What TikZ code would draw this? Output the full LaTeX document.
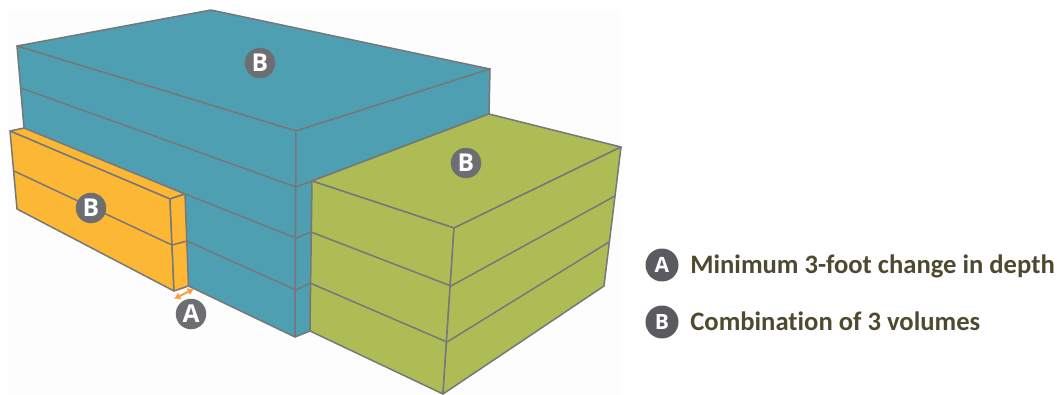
\documentclass[tikz,border=0pt]{standalone}
\usepackage{fontspec}
\setmainfont[Ligatures=NoCommon]{Carlito}
\newfontfamily\badgefont{Open Sans}
\usetikzlibrary{positioning, arrows.meta}
\definecolor{tealface}{HTML}{4F9FB3}
\definecolor{amberface}{HTML}{FCB734}
\definecolor{oliveface}{HTML}{ADBC55}
\definecolor{edgegray}{HTML}{77777A}
\definecolor{badgegray}{HTML}{6D6E71}
\definecolor{keygray}{HTML}{5A5B5E}
\definecolor{legendtext}{HTML}{4F4A2F}
\definecolor{depthorange}{HTML}{F5A03C}
\definecolor{paperwhite}{HTML}{FDFDFD}
\begin{document}
\begin{tikzpicture}[
        x=0.02cm, y=-0.02cm,
        face/.style={draw=edgegray, line width=0.85pt, line join=round},
        seam/.style={draw=edgegray, line width=0.85pt},
        badge/.style={circle, fill=badgegray, text=white, inner sep=0pt, minimum size=0.61cm, font=\fontsize{14}{14}\badgefont\bfseries},
        keybadge/.style={badge, fill=keygray, minimum size=0.66cm, font=\fontsize{12}{12}\badgefont\bfseries},
        legend/.style={anchor=base west, inner sep=0pt, text=legendtext, font=\fontsize{15.15}{15.15}\selectfont\bfseries}]

    \useasboundingbox (0,0) rectangle (1064,395);
    \fill[paperwhite] (8,10) rectangle (621,395);

    \coordinate (T1) at (17,46);
    \coordinate (T2) at (211,10);
    \coordinate (T3) at (490,69);
    \coordinate (T4) at (296,131);
    \coordinate (T5) at (296,187);
    \coordinate (T6) at (296,238);
    \coordinate (T7) at (296,290);
    \coordinate (T8) at (295,337);
    \coordinate (T9) at (21,88);
    \coordinate (T10) at (24,128);
    \coordinate (T11) at (489,114);

    \coordinate (Y1) at (10,131);
    \coordinate (Y2) at (170,199);
    \coordinate (Y3) at (172,245);
    \coordinate (Y4) at (174,291);
    \coordinate (Y5) at (17,209);
    \coordinate (Y6) at (14,171);
    \coordinate (Y7) at (185,194);
    \coordinate (Y8) at (187,241);
    \coordinate (Y9) at (188.5,286);

    \coordinate (G1) at (312,181);
    \coordinate (G2) at (621,147);
    \coordinate (G3) at (454,228);
    \coordinate (G4) at (451,286);
    \coordinate (G5) at (447,342);
    \coordinate (G6) at (443,394);
    \coordinate (G7) at (604,286);
    \coordinate (G8) at (615,196);
    \coordinate (G9) at (609,242);
    \coordinate (G10) at (311,232);
    \coordinate (G11) at (310,283);
    \coordinate (G12) at (310,331);

    \coordinate (D1) at (174,298.8);
    \coordinate (D2) at (194,288.8);

    \filldraw[face, fill=tealface] (T1) -- (T2) -- (T3) -- (T4) -- cycle;
    \filldraw[face, fill=tealface] (T1) -- (T4) -- (T8) -- (Y9) -- (T10) -- cycle;
    \filldraw[face, fill=tealface] (T4) -- (T3) -- (T11) -- (G1) -- (G12) -- (T8) -- cycle;
    \draw[seam] (T9) -- (T5);
    \draw[seam] (Y7) -- (T6);
    \draw[seam] (Y8) -- (T7);
    \draw[seam] (T5) -- (G1);
    \draw[seam] (T6) -- (G10);
    \draw[seam] (T7) -- (G11);

    \filldraw[face, fill=amberface] (Y1) -- (T10) -- (Y7) -- (Y2) -- cycle;
    \filldraw[face, fill=amberface] (Y1) -- (Y2) -- (Y4) -- (Y5) -- cycle;
    \filldraw[face, fill=amberface] (Y2) -- (Y7) -- (Y9) -- (Y4) -- cycle;
    \draw[seam] (Y6) -- (Y3);
    \draw[seam] (Y3) -- (Y8);

    \filldraw[face, fill=oliveface] (G1) -- (T11) -- (G2) -- (G3) -- cycle;
    \filldraw[face, fill=oliveface] (G1) -- (G3) -- (G6) -- (G12) -- cycle;
    \filldraw[face, fill=oliveface] (G3) -- (G2) -- (G7) -- (G6) -- cycle;
    \draw[seam] (G10) -- (G4);
    \draw[seam] (G11) -- (G5);
    \draw[seam] (G4) -- (G8);
    \draw[seam] (G5) -- (G9);

    \draw[{Latex[length=3.6pt,width=4.6pt]}-{Latex[length=3.6pt,width=4.6pt]}, depthorange, line width=1.2pt] (D1) -- (D2);

    \node[badge] (Btop) at (260,63) {B};
    \node[badge] (Bside) at (466,163) {B};
    \node[badge] (Bwing) at (91,208) {B};
    \node[badge] (Adepth) at (191,314) {A};

    \node[keybadge] (keyA) at (662,265) {A};
    \node[keybadge] (keyB) at (662,322) {B};
    \node[legend] (textA) at (690,273) {Minimum 3-foot change in depth};
    \node[legend] (textB) at (690,330) {Combination of 3 volumes};
\end{tikzpicture}
\end{document}
